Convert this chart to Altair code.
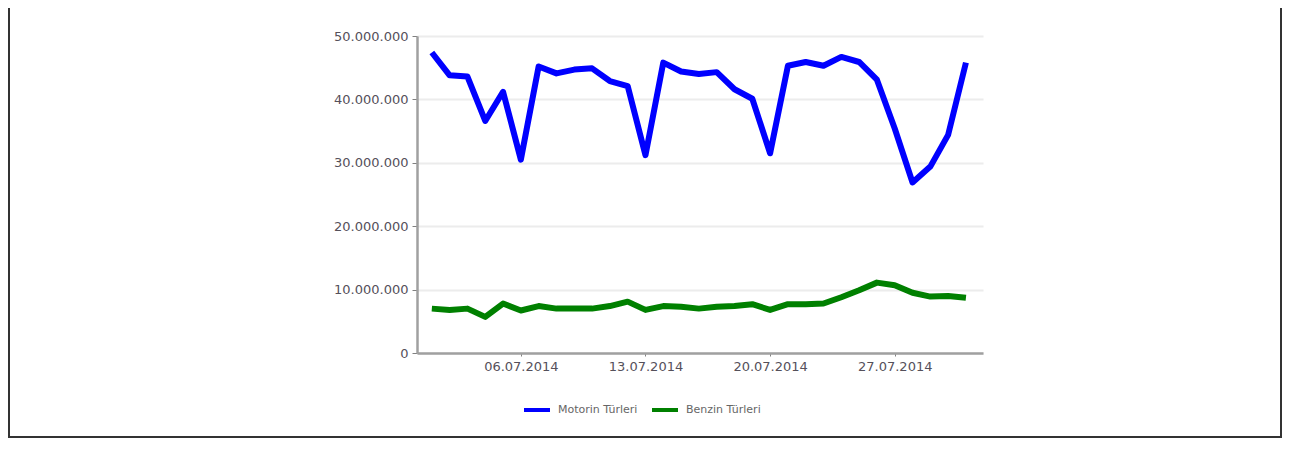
import altair as alt
import pandas as pd

# Data (values in millions of litres)
dates = [f"2014-07-{d:02d}" for d in range(1, 32)]
motorin = [47.4, 43.8, 43.6, 36.6, 41.2, 30.5, 45.2, 44.1, 44.7, 44.9, 42.9, 42.1, 31.2,
           45.8, 44.4, 44.0, 44.3, 41.6, 40.1, 31.5, 45.3, 45.9, 45.3, 46.7, 45.9, 43.1,
           35.4, 26.9, 29.4, 34.4, 45.8]
benzin = [7.0, 6.8, 7.0, 5.7, 7.8, 6.7, 7.4, 7.0, 7.0, 7.0, 7.4, 8.1, 6.8,
          7.4, 7.3, 7.0, 7.3, 7.4, 7.7, 6.8, 7.7, 7.7, 7.8, 8.8, 9.9, 11.1,
          10.7, 9.5, 8.9, 9.0, 8.7]
series = ["Motorin Türleri", "Benzin Türleri"]
colors = ["#0000FF", "#008000"]
y_ticks = [0, 10_000_000, 20_000_000, 30_000_000, 40_000_000, 50_000_000]
x_tick_days = [6, 13, 20, 27]

rows = []
for d, m, b in zip(dates, motorin, benzin):
    rows.append({"date": d, "series": series[0], "value": m * 1_000_000})
    rows.append({"date": d, "series": series[1], "value": b * 1_000_000})
df = pd.DataFrame(rows)

W, H = 566, 317
FONT = "DejaVu Sans"

lines = alt.Chart(df).mark_line(strokeWidth=6, strokeJoin="round").encode(
    x=alt.X(
        "date:T",
        scale=alt.Scale(
            type="utc",
            domain=[
                alt.DateTime(year=2014, month=6, date=30, hours=4, utc=True),
                alt.DateTime(year=2014, month=7, date=31, hours=23, utc=True),
            ],
        ),
        axis=alt.Axis(
            values=[alt.DateTime(year=2014, month=7, date=d, utc=True) for d in x_tick_days],
            format="%d.%m.%Y",
            title=None,
            grid=False,
            domainColor="#a0a0a0",
            domainWidth=2.5,
            tickColor="#808080",
            tickSize=3,
            labelPadding=4,
            labelFont=FONT,
            labelFontSize=13,
            labelColor="#55505a",
        ),
    ),
    y=alt.Y(
        "value:Q",
        scale=alt.Scale(domain=[0, 50_000_000], nice=False),
        axis=alt.Axis(
            values=y_ticks,
            format=",d",
            title=None,
            gridColor="#ececec",
            gridWidth=2,
            domainColor="#a0a0a0",
            domainWidth=2.5,
            tickColor="#808080",
            tickSize=5,
            labelPadding=4,
            labelFont=FONT,
            labelFontSize=13,
            labelColor="#55505a",
        ),
    ),
    color=alt.Color(
        "series:N",
        scale=alt.Scale(domain=series, range=colors),
        sort=series,
        legend=alt.Legend(
            title=None,
            orient="none",
            legendX=105,
            legendY=359,
            direction="horizontal",
            symbolType="stroke",
            symbolSize=676,
            symbolStrokeWidth=4,
            labelFont=FONT,
            labelFontSize=11,
            labelColor="#666666",
            labelOffset=6,
            columnPadding=6,
        ),
    ),
    detail="series:N",
)

# decorative frame of the surrounding table cell
frame_color = "#333333"
left = alt.Chart(df).mark_rule(color=frame_color, strokeWidth=2).encode(
    x=alt.value(-408), y=alt.value(-28), y2=alt.value(402))
right = alt.Chart(df).mark_rule(color=frame_color, strokeWidth=2).encode(
    x=alt.value(864), y=alt.value(-28), y2=alt.value(402))
bottom = alt.Chart(df).mark_rule(color=frame_color, strokeWidth=2).encode(
    x=alt.value(-408), x2=alt.value(865), y=alt.value(401))

chart = alt.layer(left, right, bottom, lines).properties(
    width=W,
    height=H,
    padding={"left": 409, "top": 28, "right": 299, "bottom": 85},
    autosize=alt.AutoSizeParams(type="none"),
).configure(
    locale=alt.Locale(number={"decimal": ",", "thousands": ".", "grouping": [3],
                              "currency": ["", " TL"]})
).configure_view(stroke=None)

chart.save("out.html", embed_options={"renderer": "svg", "actions": False})
